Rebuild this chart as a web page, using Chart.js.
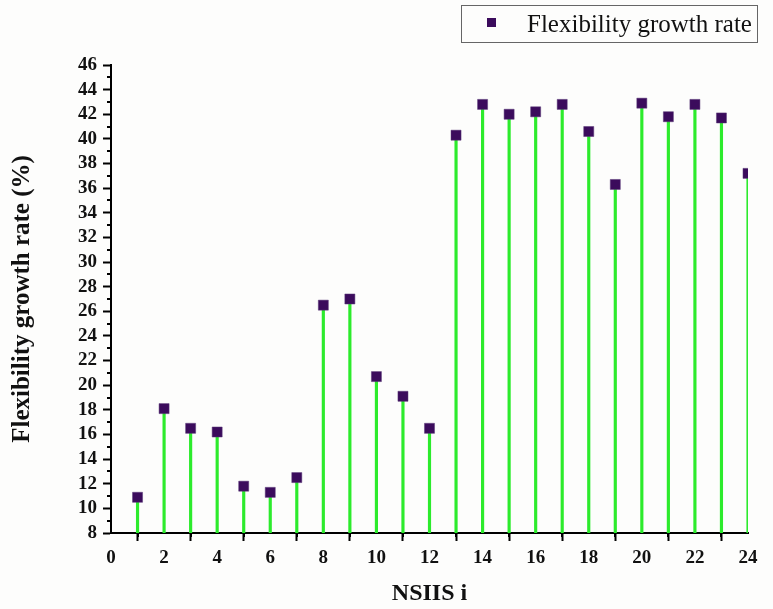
<!DOCTYPE html>
<html>
<head>
<meta charset="utf-8">
<script src="https://cdn.jsdelivr.net/npm/chart.js@4/dist/chart.umd.min.js"></script>
<style>
  html, body { margin: 0; padding: 0; background: #fdfdfc; }
  #wrap { width: 773px; height: 609px; position: relative; }
</style>
</head>
<body>
<div id="wrap"><canvas id="c" width="773" height="609"></canvas></div>
<script>
const nsiis = [1,2,3,4,5,6,7,8,9,10,11,12,13,14,15,16,17,18,19,20,21,22,23,24];
const growthRate = [10.9,18.1,16.5,16.2,11.8,11.3,12.5,26.5,27.0,20.7,19.1,16.5,40.3,42.8,42.0,42.2,42.8,40.6,36.3,42.9,41.8,42.8,41.7,37.2];
const seriesName = 'Flexibility growth rate';
const xTitle = 'NSIIS i';
const yTitle = 'Flexibility growth rate (%)';
const xMin = 0, xMax = 24, yMin = 8, yMax = 46;

const points = nsiis.map((x, i) => ({x: x, y: growthRate[i]}));

const serif = '"Liberation Serif", "Times New Roman", serif';

const bgPlugin = {
  id: 'bg',
  beforeDraw(chart) {
    const ctx = chart.ctx;
    ctx.save();
    ctx.fillStyle = '#fdfdfc';
    ctx.fillRect(0, 0, chart.width, chart.height);
    ctx.restore();
  }
};

const minorTicks = {
  id: 'minorTicks',
  afterDraw(chart) {
    const ctx = chart.ctx;
    const xs = chart.scales.x, ys = chart.scales.y;
    const area = chart.chartArea;
    ctx.save();
    ctx.strokeStyle = '#000';
    ctx.lineWidth = 2;
    ctx.beginPath();
    for (let v = xMin + 1; v < xMax; v += 2) {
      const px = Math.round(xs.getPixelForValue(v));
      ctx.moveTo(px, area.bottom);
      ctx.lineTo(px, area.bottom + 4);
    }
    for (let v = yMin + 1; v < yMax; v += 2) {
      const py = Math.round(ys.getPixelForValue(v));
      ctx.moveTo(area.left, py);
      ctx.lineTo(area.left - 4, py);
    }
    ctx.stroke();
    ctx.restore();
  }
};

const legendBox = {
  id: 'legendBox',
  afterDraw(chart) {
    const ctx = chart.ctx;
    ctx.save();
    ctx.strokeStyle = '#666';
    ctx.lineWidth = 1;
    ctx.strokeRect(461.5, 5.5, 296, 37);
    ctx.fillStyle = '#3b0b5c';
    ctx.fillRect(487, 18, 9, 9);
    ctx.fillStyle = '#111';
    ctx.font = '25px ' + serif;
    ctx.textBaseline = 'alphabetic';
    ctx.textAlign = 'left';
    ctx.fillText(chart.data.datasets[1].label, 527, 32);
    ctx.restore();
  }
};

new Chart(document.getElementById('c'), {
  type: 'bar',
  data: {
    datasets: [
      {
        type: 'bar',
        label: 'stems',
        data: points,
        backgroundColor: '#2ceb2c',
        borderWidth: 0,
        barThickness: 2.5,
        order: 2
      },
      {
        type: 'scatter',
        label: seriesName,
        data: points,
        pointStyle: 'rect',
        pointRadius: 7.1,
        pointHoverRadius: 7.1,
        backgroundColor: '#3b0b5c',
        borderColor: '#5a3a78',
        borderWidth: 0.5,
        clip: 0,
        order: 1
      }
    ]
  },
  options: {
    responsive: false,
    animation: false,
    layout: { padding: { left: 0, right: 25, top: 65, bottom: 0 } },
    plugins: {
      legend: { display: false },
      tooltip: { enabled: false }
    },
    scales: {
      x: {
        type: 'linear',
        min: xMin, max: xMax,
        offset: false,
        afterFit(s) { s.height = 76; },
        ticks: { stepSize: 2, autoSkip: false, maxRotation: 0, padding: 6, color: '#111',
                 font: { family: serif, size: 19, weight: 'bold' } },
        grid: { drawOnChartArea: false, tickLength: 8, tickWidth: 2, tickColor: '#000' },
        border: { color: '#000', width: 2 },
        title: { display: true, text: xTitle, color: '#111', padding: { top: 0, bottom: 1 },
                 font: { family: serif, size: 24, weight: 'bold' } }
      },
      y: {
        type: 'linear',
        min: yMin, max: yMax,
        afterFit(s) { s.width = 111; },
        ticks: { stepSize: 2, autoSkip: false, padding: 6, color: '#111',
                 font: { family: serif, size: 19, weight: 'bold' } },
        grid: { drawOnChartArea: false, tickLength: 8, tickWidth: 2, tickColor: '#000' },
        border: { color: '#000', width: 2 },
        title: { display: true, text: yTitle, color: '#111', padding: { top: 8, bottom: 0 },
                 font: { family: serif, size: 25, weight: 'bold' } }
      }
    }
  },
  plugins: [bgPlugin, minorTicks, legendBox]
});
</script>
</body>
</html>
